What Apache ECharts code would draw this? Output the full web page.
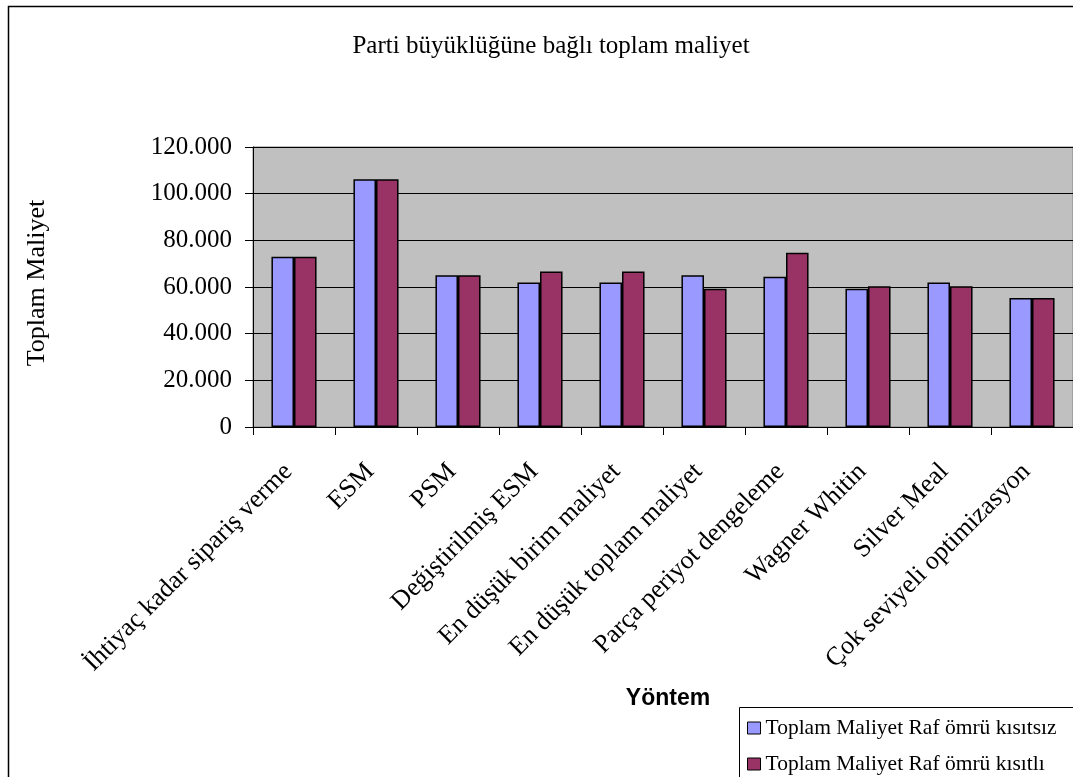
<!DOCTYPE html>
<html>
<head>
<meta charset="utf-8">
<script src="https://cdn.jsdelivr.net/npm/echarts@6/dist/echarts.min.js"></script>
<style>html,body{margin:0;padding:0;background:#fff;}#chart{width:1073px;height:777px;}</style>
</head>
<body>
<div id="chart"></div>
<script>
var categories = ['İhtiyaç kadar sipariş verme','ESM','PSM','Değiştirilmiş ESM','En düşük birim maliyet','En düşük toplam maliyet','Parça periyot dengeleme','Wagner Whitin','Silver Meal','Çok seviyeli optimizasyon'];
var seriesNames = ['Toplam Maliyet Raf ömrü kısıtsız','Toplam Maliyet Raf ömrü kısıtlı'];
var unconstrained = [73000,106200,65000,61900,61900,65000,64400,59300,61900,55300];
var constrained   = [73000,106200,65000,66600,66600,59300,74700,60300,60300,55300];
var titleText = 'Parti büyüklüğüne bağlı toplam maliyet';
var yAxisName = 'Toplam Maliyet';
var xAxisName = 'Yöntem';

var serif = '"Liberation Serif","Times New Roman",serif';
var chart = echarts.init(document.getElementById('chart'));
function fmt(v){ if(v===0) return '0'; return (v/1000).toFixed(0)+'.000'; }
var legendText = {fontFamily:serif,fontSize:21.5,color:'#000'};
chart.setOption({
  animation:false,
  backgroundColor:'#fff',
  title:{text:titleText,left:546,top:29,textAlign:'center',textStyle:{fontFamily:serif,fontSize:25,fontWeight:'normal',color:'#000'}},
  grid:{left:253,top:147,width:832,height:280,show:true,backgroundColor:'#C0C0C0',borderColor:'#808080',borderWidth:1},
  legend:[
    {show:true,left:747,top:717,padding:0,itemWidth:13,itemHeight:12,icon:'rect',data:[seriesNames[0]],textStyle:legendText,itemStyle:{borderColor:'#000',borderWidth:1}},
    {show:true,left:747,top:753,padding:0,itemWidth:13,itemHeight:12,icon:'rect',data:[seriesNames[1]],textStyle:legendText,itemStyle:{borderColor:'#000',borderWidth:1}}
  ],
  xAxis:{type:'category',data:categories,
    axisLine:{lineStyle:{color:'#000',width:1}},
    axisTick:{show:true,length:8,lineStyle:{color:'#000'}},
    axisLabel:{rotate:45,margin:35,padding:[0,8,0,0],fontFamily:serif,fontSize:26,color:'#000',interval:0}},
  yAxis:{type:'value',min:0,max:120000,interval:20000,
    axisLine:{show:true,lineStyle:{color:'#000',width:1}},
    axisTick:{show:true,length:8,lineStyle:{color:'#000'}},
    splitLine:{lineStyle:{color:'#000',width:1}},
    axisLabel:{margin:21,fontFamily:serif,fontSize:25,color:'#000',formatter:fmt}},
  graphic:[
    {type:'rect',silent:true,z:-10,shape:{x:8.5,y:6.5,width:1200,height:900},style:{fill:null,stroke:'#000',lineWidth:1.5}},
    {type:'rect',silent:true,z:-1,shape:{x:739.5,y:707.5,width:500,height:200},style:{fill:'#fff',stroke:'#000',lineWidth:1}},
    {type:'text',silent:true,x:37,y:283,rotation:Math.PI/2,style:{text:yAxisName,font:'26px '+serif,fill:'#000',textAlign:'center',textVerticalAlign:'middle'}},
    {type:'text',silent:true,x:668,y:699,style:{text:xAxisName,font:'bold 23px "Liberation Sans",Arial,sans-serif',fill:'#000',textAlign:'center',textVerticalAlign:'middle'}}
  ],
  series:[
    {name:seriesNames[0],type:'bar',data:unconstrained,barGap:'0%',barCategoryGap:'45%',
      itemStyle:{color:'#9999FF',borderColor:'#000',borderWidth:1.5}},
    {name:seriesNames[1],type:'bar',data:constrained,barGap:'0%',barCategoryGap:'45%',
      itemStyle:{color:'#993366',borderColor:'#000',borderWidth:1.5}}
  ]
});
</script>
</body>
</html>
